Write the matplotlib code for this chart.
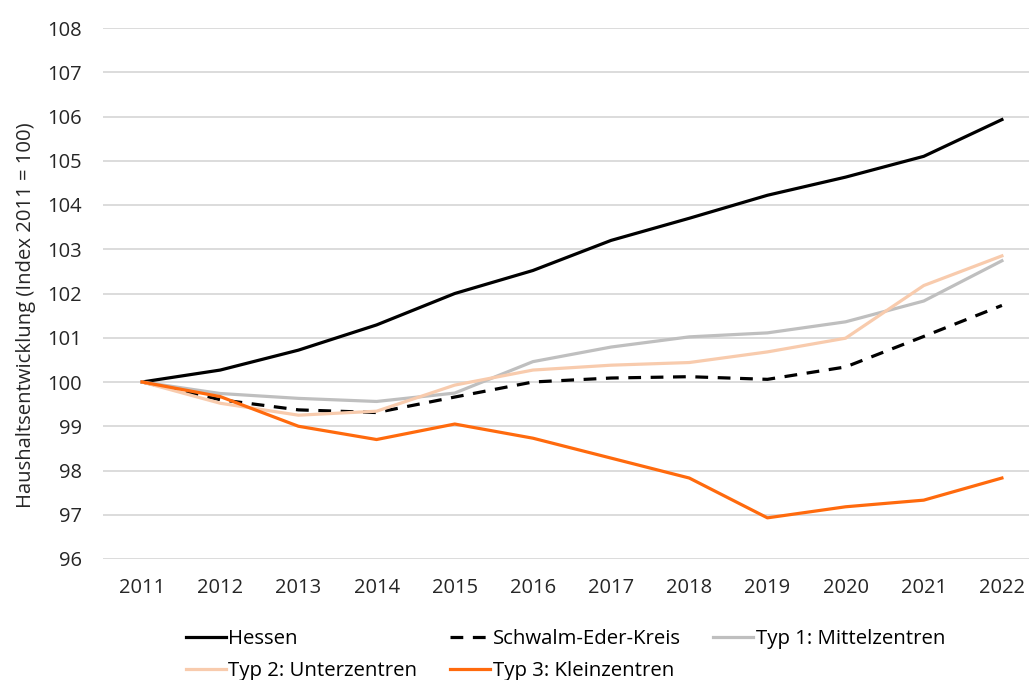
import numpy as np
import matplotlib.pyplot as plt

plt.rcParams['font.family'] = ['Open Sans', 'DejaVu Sans']

#%%
# Daten (Index 2011 = 100)
jahre = [2011, 2012, 2013, 2014, 2015, 2016, 2017, 2018, 2019, 2020, 2021, 2022]
hessen = [100.0, 100.27, 100.72, 101.29, 102.0, 102.52, 103.2, 103.7, 104.22, 104.63, 105.1, 105.93]
schwalm_eder = [100.0, 99.6, 99.37, 99.31, 99.66, 100.0, 100.09, 100.12, 100.06, 100.34, 101.03, 101.73]
typ1_mittel = [100.0, 99.74, 99.63, 99.56, 99.75, 100.46, 100.79, 101.02, 101.11, 101.36, 101.83, 102.74]
typ2_unter = [100.0, 99.52, 99.25, 99.34, 99.93, 100.27, 100.38, 100.44, 100.68, 100.99, 102.18, 102.85]
typ3_klein = [100.0, 99.67, 99.0, 98.7, 99.05, 98.73, 98.28, 97.83, 96.93, 97.18, 97.33, 97.83]

#%%
# Plot
fig = plt.figure(figsize=(10.29, 6.8), dpi=100)
ax = fig.add_axes([103 / 1029, 1 - 559 / 680, 938 / 1029, 531 / 680])

l1, = ax.plot(jahre, hessen, color='black', lw=2.3, label='Hessen')
l2, = ax.plot(jahre, schwalm_eder, color='black', lw=2.3, ls=(0, (4, 3)), label='Schwalm-Eder-Kreis')
l3, = ax.plot(jahre, typ1_mittel, color='#BFBFBF', lw=2.3, label='Typ 1: Mittelzentren')
l4, = ax.plot(jahre, typ2_unter, color='#F8CBAD', lw=2.3, label='Typ 2: Unterzentren')
l5, = ax.plot(jahre, typ3_klein, color='#FF6A0D', lw=2.3, label='Typ 3: Kleinzentren')

ax.set_xlim(2010.5, 2022.5)
ax.set_ylim(96, 108)
ax.set_xticks(jahre)
ax.set_yticks(np.arange(96, 109, 1))
ax.tick_params(length=0, labelsize=14.5, colors='#262626')
ax.tick_params(axis='y', pad=15)
ax.tick_params(axis='x', pad=14)
ax.grid(axis='y', color='#D9D9D9', lw=1.3)
ax.set_axisbelow(True)
for s in ax.spines.values():
    s.set_visible(False)

ax.set_ylabel('Haushaltsentwicklung (Index 2011 = 100)', fontsize=14.6, color='#262626')
ax.yaxis.set_label_coords(-67 / 938, 0.46)

# Legende zeilenweise: Spalten werden von matplotlib spaltenweise gefuellt
handles = [l1, l4, l2, l5, l3]
fig.legend(handles=handles, labels=[h.get_label() for h in handles],
           loc='upper left', bbox_to_anchor=(186 / 1029, 1 - 629 / 680), ncol=3,
           frameon=False, fontsize=14.7, handlelength=1.96, handletextpad=0.12,
           columnspacing=1.6, labelspacing=0.6, borderaxespad=0, borderpad=0)

fig.savefig('out.png', dpi=100)
